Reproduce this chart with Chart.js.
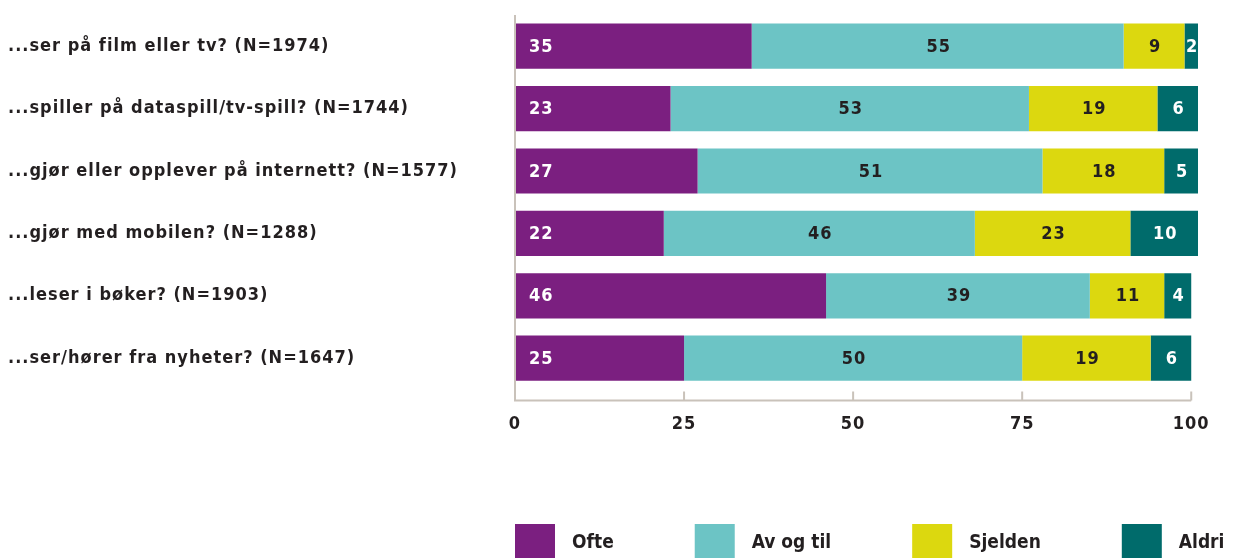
<!DOCTYPE html>
<html>
<head>
<meta charset="utf-8">
<script src="https://cdn.jsdelivr.net/npm/chart.js@4.4.1/dist/chart.umd.min.js"></script>
<style>
  html, body { margin: 0; padding: 0; background: #fff; }
  #wrap { width: 1233px; height: 558px; }
</style>
</head>
<body>
<div id="wrap"><canvas id="mediaChart"></canvas></div>
<script>
const categories = [
    '...ser på film eller tv? (N=1974)',
    '...spiller på dataspill/tv-spill? (N=1744)',
    '...gjør eller opplever på internett? (N=1577)',
    '...gjør med mobilen? (N=1288)',
    '...leser i bøker? (N=1903)',
    '...ser/hører fra nyheter? (N=1647)'
];
const ofte = [35, 23, 27, 22, 46, 25];
const avOgTil = [55, 53, 51, 46, 39, 50];
const sjelden = [9, 19, 18, 23, 11, 19];
const aldri = [2, 6, 5, 10, 4, 6];
const xTicks = [0, 25, 50, 75, 100];

const FONT = '"DejaVu Sans Condensed", "DejaVu Sans"';
const TEXT = '#231F20';
const AXIS = '#C9C2BA';

// the original type is spaced out a little
const spacing = {
    id: 'spacing',
    beforeDraw(chart) {
        chart.ctx.letterSpacing = '1px';
    }
};

const axisLines = {
    id: 'axisLines',
    afterDraw(chart) {
        const { ctx, chartArea, scales } = chart;
        const yLine = chartArea.bottom + 11;
        ctx.save();
        ctx.strokeStyle = AXIS;
        ctx.lineWidth = 2;
        ctx.beginPath();
        ctx.moveTo(chartArea.left, chartArea.top);
        ctx.lineTo(chartArea.left, yLine);
        ctx.lineTo(scales.x.getPixelForValue(100), yLine);
        xTicks.forEach(t => {
            const px = scales.x.getPixelForValue(t);
            ctx.moveTo(px, yLine);
            ctx.lineTo(px, yLine - 9);
        });
        ctx.stroke();
        ctx.restore();
    }
};

const valueLabels = {
    id: 'valueLabels',
    afterDatasetsDraw(chart) {
        const { ctx } = chart;
        ctx.save();
        ctx.font = 'bold 18px ' + FONT;
        ctx.textBaseline = 'middle';
        chart.data.datasets.forEach((ds, di) => {
            const meta = chart.getDatasetMeta(di);
            meta.data.forEach((bar, i) => {
                const v = ds.data[i];
                ctx.fillStyle = ds.labelColor;
                if (di === 0) {
                    ctx.textAlign = 'left';
                    ctx.fillText(v, bar.base + 14, bar.y + 1);
                } else {
                    ctx.textAlign = 'center';
                    ctx.fillText(v, (bar.x + bar.base) / 2 + 1, bar.y + 1);
                }
            });
        });
        ctx.restore();
    }
};

const bottomLegend = {
    id: 'bottomLegend',
    afterDraw(chart) {
        const { ctx, chartArea } = chart;
        ctx.save();
        ctx.letterSpacing = '0px';
        ctx.font = 'bold 19px ' + FONT;
        ctx.textBaseline = 'middle';
        ctx.textAlign = 'left';
        let x = chartArea.left;
        const top = 524;
        chart.data.datasets.forEach(ds => {
            ctx.fillStyle = ds.backgroundColor;
            ctx.fillRect(x, top, 40, 34);
            ctx.fillStyle = TEXT;
            ctx.fillText(ds.label, x + 57, top + 19);
            x += 57 + ctx.measureText(ds.label).width + 81;
        });
        ctx.restore();
    }
};

new Chart(document.getElementById('mediaChart').getContext('2d'), {
    type: 'bar',
    data: {
        labels: categories,
        datasets: [
            { label: 'Ofte', data: ofte, backgroundColor: '#7B1F80', labelColor: '#FFFFFF' },
            { label: 'Av og til', data: avOgTil, backgroundColor: '#6CC4C5', labelColor: TEXT },
            { label: 'Sjelden', data: sjelden, backgroundColor: '#DCD80F', labelColor: TEXT },
            { label: 'Aldri', data: aldri, backgroundColor: '#006B6B', labelColor: '#FFFFFF' }
        ]
    },
    options: {
        indexAxis: 'y',
        responsive: true,
        maintainAspectRatio: false,
        animation: false,
        layout: {
            padding: { top: 15, left: 8, right: 35, bottom: 99 }
        },
        datasets: {
            bar: { barPercentage: 1, categoryPercentage: 0.725, borderWidth: 0 }
        },
        plugins: {
            legend: { display: false },
            tooltip: { enabled: false }
        },
        scales: {
            x: {
                stacked: true,
                min: 0,
                max: 101,
                afterBuildTicks: scale => { scale.ticks = xTicks.map(v => ({ value: v })); },
                grid: { display: false, drawTicks: false },
                border: { display: false },
                ticks: {
                    padding: 24,
                    color: TEXT,
                    font: { family: FONT, size: 18, weight: 'bold' }
                }
            },
            y: {
                stacked: true,
                afterFit: scale => { scale.width = 507; },
                grid: { display: false, drawTicks: false },
                border: { display: false },
                ticks: {
                    crossAlign: 'far',
                    color: TEXT,
                    font: { family: FONT, size: 18, weight: 'bold' }
                }
            }
        }
    },
    plugins: [spacing, axisLines, valueLabels, bottomLegend]
});
</script>
</body>
</html>
